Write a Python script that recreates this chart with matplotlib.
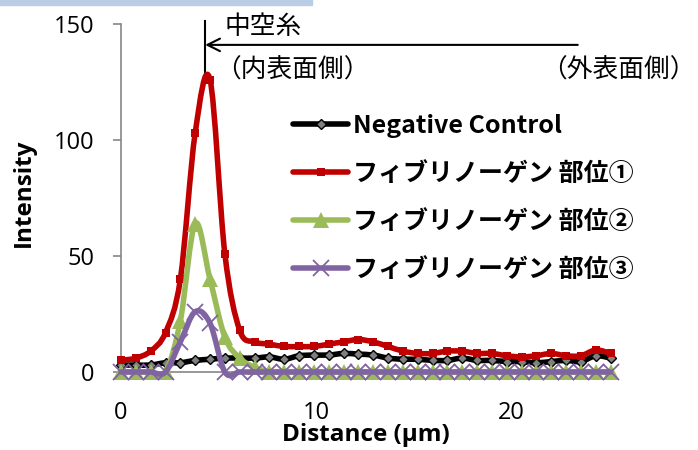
import numpy as np
import matplotlib
matplotlib.use("Agg")
import matplotlib.pyplot as plt
from matplotlib.path import Path
from matplotlib.patches import PathPatch, Rectangle
from matplotlib.lines import Line2D

# profile positions (um), one sample every 0.76 um
distance = [0.76 * i for i in range(34)]

negative_control = [3, 3, 3, 4, 4, 5, 5.5, 6, 6, 6, 6.5, 5.5, 7, 7.3, 7.3, 8, 7.7,
                    7.3, 6, 5.5, 5.5, 5, 5, 6, 5, 5, 4.5, 4.5, 4, 4.5, 5, 4.5, 7, 6]
site1 = [5, 6, 9, 17, 40, 103, 126, 51, 18, 13, 12, 11, 11, 11, 12, 13, 14,
         13, 11, 9, 8, 8, 9, 9, 8, 8, 7, 6.5, 7, 8, 7, 7, 9.5, 8]
site2 = [0, 0, 0, 0, 22, 64, 40, 15, 6, 2, 0, 0, 0, 0, 0, 0, 0,
         0, 0, 0, 0, 0, 0, 0, 0, 0, 0, 0, 0, 0, 0, 0, 0, 0]
site3 = [0, 0, 0, 0, 13, 26, 21, 0, 0, 0, 0, 0, 0, 0, 0, 0, 0,
         0, 0, 0, 0, 0, 0, 0, 0, 0, 0, 0, 0, 0, 0, 0, 0, 0]

labels = ["Negative Control", "フィブリノーゲン 部位①",
          "フィブリノーゲン 部位②", "フィブリノーゲン 部位③"]
colors = ["black", "#c00000", "#9bbb59", "#8064a2"]

x_ticks = [0, 10, 20]
y_ticks = [0, 50, 100, 150]

CJK = ["Noto Sans CJK JP", "DejaVu Sans"]
LAT = ["Open Sans", "DejaVu Sans"]


def smooth_path(x, y):
    # excel-like smoothed line: catmull-rom turned into cubic beziers
    pts = np.column_stack([x, y]).astype(float)
    n = len(pts)
    verts = [pts[0]]
    codes = [Path.MOVETO]
    for i in range(n - 1):
        p0 = pts[max(i - 1, 0)]
        p1 = pts[i]
        p2 = pts[i + 1]
        p3 = pts[min(i + 2, n - 1)]
        verts += [p1 + (p2 - p0) / 6, p2 - (p3 - p1) / 6, p2]
        codes += [Path.CURVE4] * 3
    return Path(verts, codes)


fig = plt.figure(figsize=(6.98, 4.5), dpi=100)
ax = fig.add_axes([121 / 698, 78 / 450, 488 / 698, 348 / 450])

# thin blue strip along the top edge of the slide
fig.patches.append(Rectangle((0, 445 / 450), 312 / 698, 5 / 450,
                             transform=fig.transFigure, color="#b9cde5",
                             zorder=0))

series = [negative_control, site1, site2, site3]
markers = [dict(marker="D", ms=5, mfc="#7f7f7f", mec="black", mew=1),
           dict(marker="s", ms=6, mfc=colors[1], mec=colors[1], mew=0),
           dict(marker="^", ms=11, mfc=colors[2], mec=colors[2], mew=0),
           dict(marker="x", ms=11, mec=colors[3], mew=1.3)]

handles = []
for k, (vals, col, mk) in enumerate(zip(series, colors, markers)):
    patch = PathPatch(smooth_path(distance, vals), fill=False, edgecolor=col,
                      lw=4, capstyle="round", joinstyle="round",
                      clip_on=False, zorder=3 + k)
    ax.add_patch(patch)
    ax.plot(distance, vals, linestyle="none", clip_on=False, zorder=3 + k, **mk)
    handles.append(Line2D([], [], color=col, lw=4, solid_capstyle="round", **mk))

ax.set_xlim(0, 25)
ax.set_ylim(0, 150)
ax.set_xticks(x_ticks)
ax.set_yticks(y_ticks)

for s in ["top", "right"]:
    ax.spines[s].set_visible(False)
for s in ["left", "bottom"]:
    ax.spines[s].set_color("#868686")
    ax.spines[s].set_linewidth(1.2)

ax.tick_params(axis="y", length=6, width=1.2, color="#868686", pad=13,
               labelsize=17)
ax.tick_params(axis="x", length=0, pad=21, labelsize=17)
for t in ax.get_xticklabels() + ax.get_yticklabels():
    t.set_family(LAT)

ax.set_ylabel("Intensity", family=LAT, fontsize=17.5, fontweight="bold",
              va="center")
ax.yaxis.set_label_coords(-0.199, 0.514)
ax.set_xlabel("Distance (µm)", family=LAT, fontsize=17.5, fontweight="bold",
              va="center")
ax.xaxis.set_label_coords(0.502, -0.181)

leg = ax.legend(handles, labels, loc="upper left",
                bbox_to_anchor=(293 / 698, 1 - 114 / 450),
                bbox_transform=fig.transFigure, frameon=False,
                handlelength=2.2, handletextpad=0.2, labelspacing=0.96,
                borderpad=0, borderaxespad=0,
                prop=dict(family=CJK, weight="bold", size=18))

# hollow fibre inner-surface marker and direction arrow
ax.plot([4.31, 4.31], [128, 151.5], color="black", lw=1.5, clip_on=False)
ax.annotate("", xy=(4.31, 141), xytext=(23.4, 141),
            arrowprops=dict(arrowstyle="->,head_length=0.9,head_width=0.45",
                            color="black", lw=1.5, shrinkA=0, shrinkB=0),
            annotation_clip=False)
ax.text(5.3, 148.5, "中空糸", family=CJK, fontsize=18.5, va="center",
        ha="left")
ax.text(4.8, 129.8, "（内表面側）", family=CJK, fontsize=18.5, va="center",
        ha="left")
ax.text(29.45, 129.8, "（外表面側）", family=CJK, fontsize=18.5, va="center",
        ha="right", clip_on=False)

fig.savefig("out.png", dpi=100)
